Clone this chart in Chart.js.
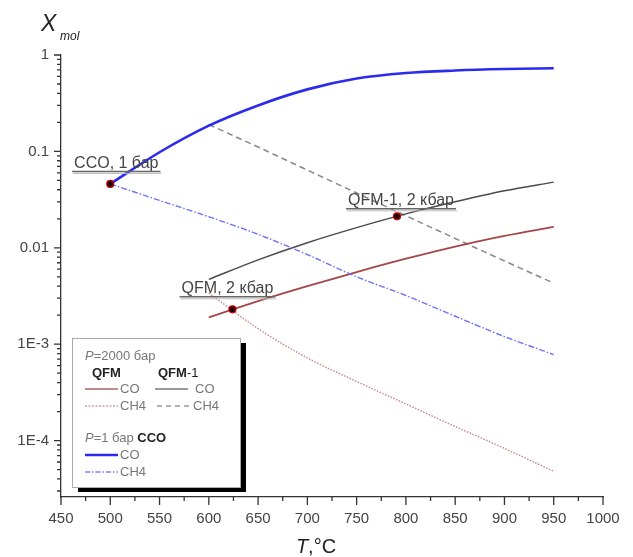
<!DOCTYPE html>
<html>
<head>
<meta charset="utf-8">
<script src="https://cdn.jsdelivr.net/npm/chart.js@4"></script>
<style>
  body { margin: 0; background: #fff; }
  canvas { display: block; }
</style>
</head>
<body>
<canvas id="grafico" width="633" height="557"></canvas>
<script>
// temperaturas, °C
const temps = [500, 550, 600, 650, 700, 750, 800, 850, 900, 950];
const qfmTemps = [600, 650, 700, 750, 800, 850, 900, 950];

// CCO, 1 бар
const ccoCO = [0.046, 0.098, 0.185, 0.30, 0.44, 0.57, 0.65, 0.69, 0.715, 0.73];
const ccoCH4 = [0.046, 0.031, 0.021, 0.0138, 0.0085, 0.0050, 0.0032, 0.00195, 0.0012, 0.00078];

// QFM, 2 кбар
const qfmCO = [0.0019, 0.0028, 0.0040, 0.0056, 0.0077, 0.0103, 0.0133, 0.0165];
const qfmCH4 = [0.0034, 0.00145, 0.00072, 0.00041, 0.00024, 0.00014, 0.000083, 0.000048];

// QFM-1, 2 кбар
const qfm1CO = [0.0047, 0.0075, 0.0113, 0.0162, 0.0225, 0.030, 0.039, 0.048];
const qfm1CH4 = [0.19, 0.111, 0.064, 0.037, 0.0215, 0.0125, 0.0073, 0.0043];

// puntos marcados
const markerT = [500, 624, 791];
const markerX = [0.046, 0.0023, 0.0212];
const markerLabels = ["CCO, 1 бар", "QFM, 2 кбар", "QFM-1, 2 кбар"];

// ejes
const xTicks = [450, 500, 550, 600, 650, 700, 750, 800, 850, 900, 950, 1000];
const yTicks = [1e-4, 1e-3, 0.01, 0.1, 1];
const yTickLabels = ["1E-4", "1E-3", "0.01", "0.1", "1"];

const FONT = 'Arial, "Liberation Sans", sans-serif';

function puntos(xs, ys) {
  return xs.map((t, i) => ({ x: t, y: ys[i] }));
}

function serie(label, xs, ys, color, width, dash) {
  return {
    label,
    data: puntos(xs, ys),
    borderColor: color,
    borderWidth: width,
    borderDash: dash,
    pointRadius: 0,
    cubicInterpolationMode: "monotone",
    fill: false,
    order: 1
  };
}

// marcas de los ejes (mayores y menores)
const marcasEjes = {
  id: "marcasEjes",
  afterDraw(chart) {
    const ctx = chart.ctx;
    const x = chart.scales.x;
    const y = chart.scales.y;
    const area = chart.chartArea;
    ctx.save();
    ctx.strokeStyle = "#333";
    ctx.lineWidth = 1.3;
    ctx.beginPath();
    for (let t = 450; t <= 1000; t += 25) {
      const px = x.getPixelForValue(t);
      const len = t % 50 === 0 ? 8 : 4;
      ctx.moveTo(px, area.bottom);
      ctx.lineTo(px, area.bottom + len);
    }
    for (let d = 1e-5; d <= 1; d *= 10) {
      for (let k = 1; k <= 9; k++) {
        const v = d * k;
        if (v < y.min || v > y.max * 1.0001) continue;
        const py = y.getPixelForValue(v);
        const len = k === 1 ? 7 : 4;
        ctx.moveTo(area.left, py);
        ctx.lineTo(area.left - len, py);
      }
    }
    ctx.stroke();
    ctx.restore();
  }
};

// etiquetas de los puntos, títulos de ejes y leyenda
const textos = {
  id: "textos",
  afterDraw(chart) {
    const ctx = chart.ctx;
    const area = chart.chartArea;
    const meta = chart.getDatasetMeta(chart.data.datasets.length - 1);
    const offsets = [[6, -16], [-5, -16], [4, -11]];

    ctx.save();
    ctx.font = "16px " + FONT;
    ctx.textAlign = "center";
    ctx.textBaseline = "alphabetic";
    markerLabels.forEach((txt, i) => {
      const p = meta.data[i];
      const cx = p.x + offsets[i][0];
      const by = p.y + offsets[i][1];
      ctx.fillStyle = "#444";
      ctx.fillText(txt, cx, by);
      const w = ctx.measureText(txt).width;
      ctx.strokeStyle = "#666";
      ctx.lineWidth = 1.5;
      ctx.beginPath();
      ctx.moveTo(cx - w / 2 - 2, by + 3.5);
      ctx.lineTo(cx + w / 2 + 2, by + 3.5);
      ctx.stroke();
      ctx.strokeStyle = "#bbb";
      ctx.lineWidth = 1;
      ctx.beginPath();
      ctx.moveTo(cx - w / 2 - 1, by + 5.5);
      ctx.lineTo(cx + w / 2 + 3, by + 5.5);
      ctx.stroke();
    });

    // títulos de ejes
    ctx.fillStyle = "#222";
    ctx.textAlign = "left";
    ctx.font = "italic 23px " + FONT;
    ctx.fillText("X", 41, 31);
    ctx.font = "italic 12px " + FONT;
    ctx.fillText("mol", 60, 40);

    ctx.font = "italic 20px " + FONT;
    const wT = ctx.measureText("T").width;
    ctx.font = "20px " + FONT;
    const wR = ctx.measureText(",°C").width;
    const x0 = (area.left + area.right) / 2 - (wT + wR) / 2 - 16;
    ctx.font = "italic 20px " + FONT;
    ctx.fillText("T", x0, 553);
    ctx.font = "20px " + FONT;
    ctx.fillText(",°C", x0 + wT, 553);

    // leyenda
    const L = area.left + 11;
    const T = 338;
    const W = 168;
    const H = 149;
    ctx.fillStyle = "#000";
    ctx.fillRect(L + 6, T + 5, W, H);
    ctx.fillStyle = "#fff";
    ctx.fillRect(L, T, W, H);
    ctx.strokeStyle = "#aaa";
    ctx.lineWidth = 1;
    ctx.strokeRect(L + 0.5, T + 0.5, W, H);

    const gris = "#777";
    function trozo(x, y, partes) {
      let cx = x;
      partes.forEach(([txt, estilo, color]) => {
        ctx.font = estilo + " 13px " + FONT;
        ctx.fillStyle = color || gris;
        ctx.fillText(txt, cx, y);
        cx += ctx.measureText(txt).width;
      });
    }
    function linea(x1, x2, y, color, width, dash) {
      ctx.save();
      ctx.strokeStyle = color;
      ctx.lineWidth = width;
      ctx.setLineDash(dash);
      ctx.beginPath();
      ctx.moveTo(x1, y);
      ctx.lineTo(x2, y);
      ctx.stroke();
      ctx.restore();
    }

    trozo(L + 13, T + 22, [["P", "italic"], ["=2000 бар", "normal"]]);
    trozo(L + 20, T + 39, [["QFM", "bold", "#222"]]);
    trozo(L + 86, T + 39, [["QFM", "bold", "#222"], ["-1", "normal", "#222"]]);

    linea(L + 13, L + 46, T + 51, "#c08a8a", 2, []);
    trozo(L + 48, T + 55, [["CO", "normal"]]);
    linea(L + 83, L + 116, T + 51, "#999", 2, []);
    trozo(L + 123, T + 55, [["CO", "normal"]]);

    linea(L + 13, L + 46, T + 68, "#d4a0a0", 1.5, [2, 1.5]);
    trozo(L + 48, T + 72, [["CH4", "normal"]]);
    linea(L + 85, L + 120, T + 68, "#999", 1.5, [5, 4]);
    trozo(L + 121, T + 72, [["CH4", "normal"]]);

    trozo(L + 13, T + 104, [["P", "italic"], ["=1 бар ", "normal"], ["CCO", "bold", "#222"]]);
    linea(L + 13, L + 46, T + 117, "#2b2bee", 2.5, []);
    trozo(L + 48, T + 121, [["CO", "normal"]]);
    linea(L + 13, L + 46, T + 134, "#8080ff", 1.5, [5, 2, 1.5, 2]);
    trozo(L + 48, T + 138, [["CH4", "normal"]]);

    ctx.restore();
  }
};

new Chart(document.getElementById("grafico"), {
  type: "line",
  data: {
    datasets: [
      serie("CCO CO", temps, ccoCO, "#2b2bee", 2.6, []),
      serie("CCO CH4", temps, ccoCH4, "#7070ff", 1.4, [6, 2, 1.5, 2]),
      serie("QFM CO", qfmTemps, qfmCO, "#a44646", 1.8, []),
      serie("QFM CH4", qfmTemps, qfmCH4, "#c88686", 1.4, [1.5, 1.5]),
      serie("QFM-1 CO", qfmTemps, qfm1CO, "#4a4a4a", 1.5, []),
      serie("QFM-1 CH4", qfmTemps, qfm1CH4, "#888", 1.5, [6, 4]),
      {
        label: "puntos",
        data: puntos(markerT, markerX),
        showLine: false,
        pointRadius: 3.5,
        pointBackgroundColor: "#220000",
        pointBorderColor: "#d00000",
        pointBorderWidth: 1.2,
        order: 0
      }
    ]
  },
  options: {
    responsive: false,
    animation: false,
    layout: { padding: { left: 0, top: 55, right: 30, bottom: 0 } },
    plugins: {
      legend: { display: false },
      tooltip: { enabled: false }
    },
    scales: {
      x: {
        type: "linear",
        min: 450,
        max: 1000,
        afterBuildTicks: (s) => { s.ticks = xTicks.map(v => ({ value: v })); },
        afterFit: (s) => { s.height = 60; },
        grid: { display: false, drawTicks: false },
        border: { display: true, color: "#333", width: 1.3 },
        ticks: {
          font: { family: FONT, size: 15 },
          color: "#444",
          padding: 13,
          maxRotation: 0,
          autoSkip: false,
          callback: (v) => String(v)
        }
      },
      y: {
        type: "logarithmic",
        min: 2.6e-5,
        max: 1,
        afterBuildTicks: (s) => { s.ticks = yTicks.map(v => ({ value: v })); },
        afterFit: (s) => { s.width = 61; },
        grid: { display: false, drawTicks: false },
        border: { display: true, color: "#333", width: 1.3 },
        ticks: {
          font: { family: FONT, size: 15 },
          color: "#444",
          padding: 12,
          autoSkip: false,
          callback: (v) => {
            const i = yTicks.findIndex(t => Math.abs(t - v) / t < 1e-6);
            return i >= 0 ? yTickLabels[i] : "";
          }
        }
      }
    }
  },
  plugins: [marcasEjes, textos]
});
</script>
</body>
</html>
